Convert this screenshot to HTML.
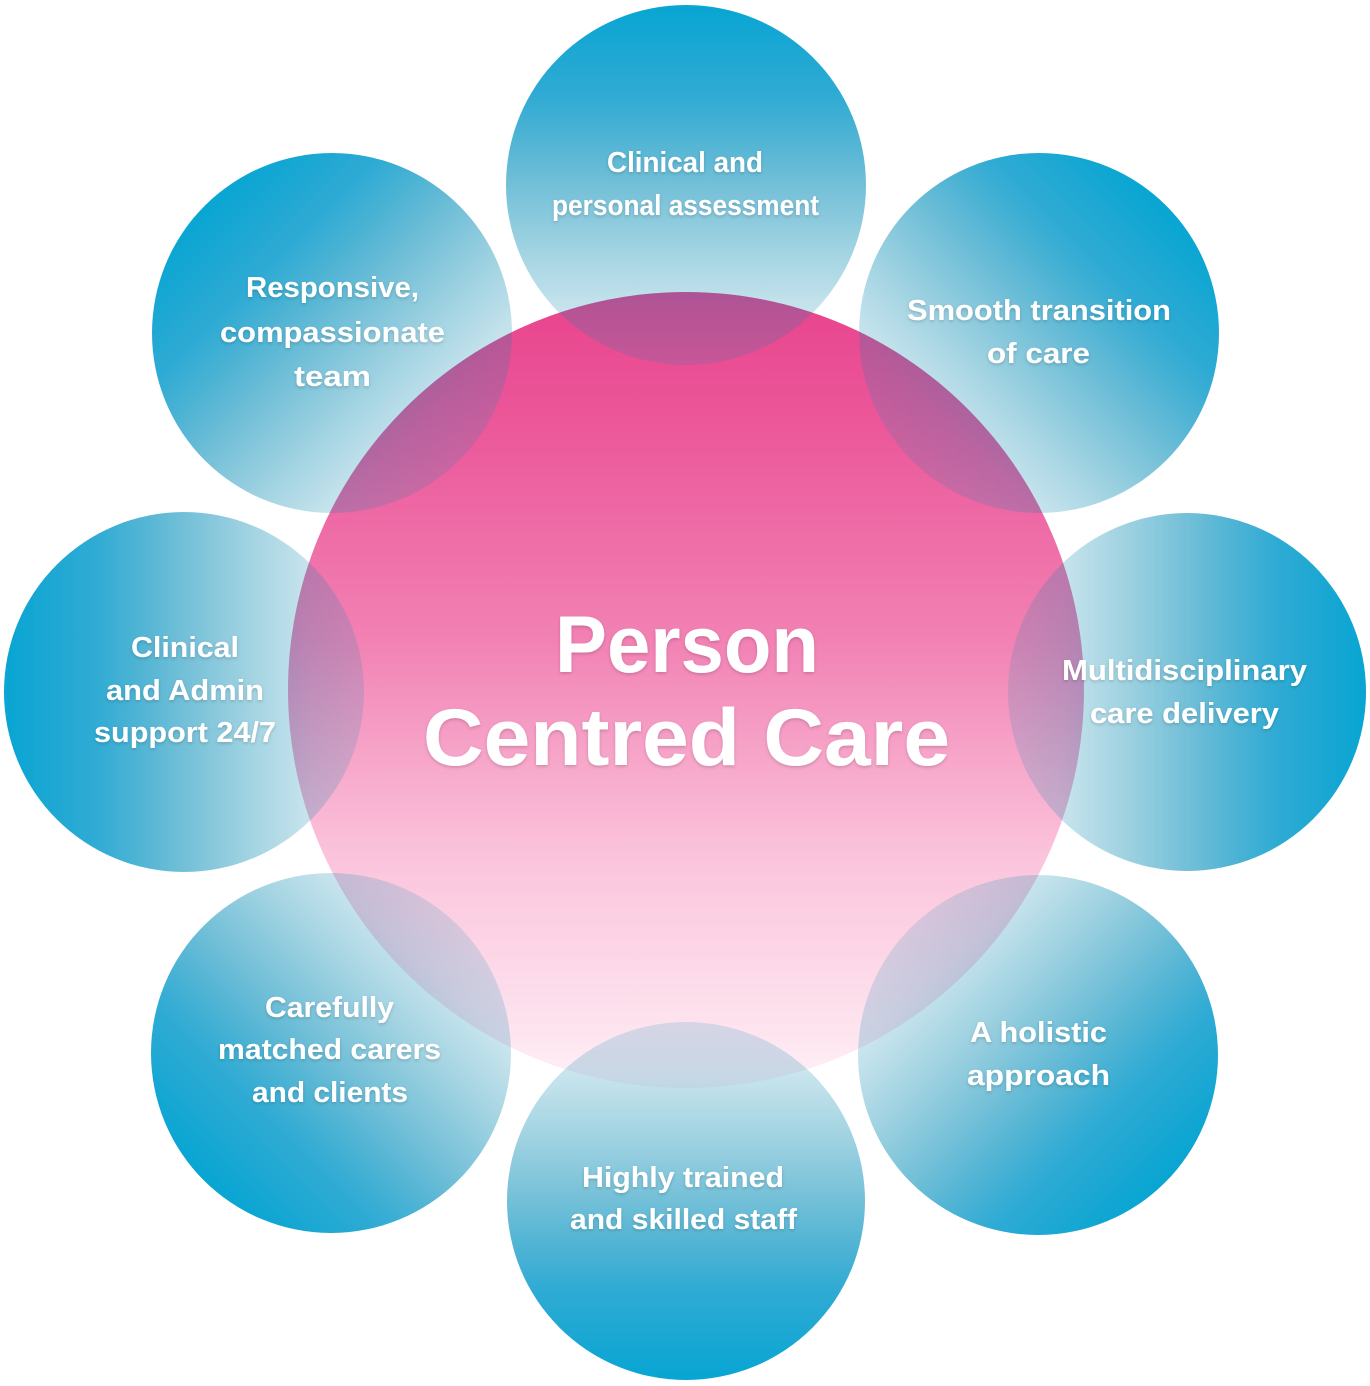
<!DOCTYPE html>
<html>
<head>
<meta charset="utf-8">
<style>
  html, body { margin: 0; padding: 0; background: #ffffff; }
  svg { display: block; }
  .t { font-family: "Liberation Sans", "DejaVu Sans", sans-serif; font-weight: 700; fill: #ffffff; text-anchor: middle; }
  .o { font-size: 29px; }
  .c { font-size: 81px; }
</style>
</head>
<body>
<svg width="1370" height="1386" viewBox="0 0 1370 1386" xmlns="http://www.w3.org/2000/svg">
  <defs>
    <linearGradient id="pk" x1="0" y1="0" x2="0" y2="1">
      <stop offset="0" stop-color="#e8438c"/>
      <stop offset="0.2" stop-color="#ec5c9d"/>
      <stop offset="0.44" stop-color="#f282b4"/>
      <stop offset="0.71" stop-color="#fbc4dc"/>
      <stop offset="0.94" stop-color="#fde6f0"/>
      <stop offset="1" stop-color="#fff2f7"/>
    </linearGradient>
    <linearGradient id="b" x1="0.5" y1="0" x2="0.5" y2="1">
      <stop offset="0" stop-color="#08a5d3" stop-opacity="1"/>
      <stop offset="0.25" stop-color="#0a9ccc" stop-opacity="0.85"/>
      <stop offset="0.5" stop-color="#008cb8" stop-opacity="0.55"/>
      <stop offset="0.7" stop-color="#0087af" stop-opacity="0.35"/>
      <stop offset="0.85" stop-color="#0484ad" stop-opacity="0.22"/>
      <stop offset="1" stop-color="#0087af" stop-opacity="0.15"/>
    </linearGradient>
    <linearGradient id="gT" href="#b" x1="0.5" y1="0" x2="0.5" y2="1"/>
    <linearGradient id="gTR" href="#b" x1="0.854" y1="0.146" x2="0.146" y2="0.854"/>
    <linearGradient id="gR" href="#b" x1="1" y1="0.5" x2="0" y2="0.5"/>
    <linearGradient id="gBR" href="#b" x1="0.854" y1="0.854" x2="0.146" y2="0.146"/>
    <linearGradient id="gB" href="#b" x1="0.5" y1="1" x2="0.5" y2="0"/>
    <linearGradient id="gBL" href="#b" x1="0.146" y1="0.854" x2="0.854" y2="0.146"/>
    <linearGradient id="gL" href="#b" x1="0" y1="0.5" x2="1" y2="0.5"/>
    <linearGradient id="gTL" href="#b" x1="0.146" y1="0.146" x2="0.854" y2="0.854"/>
    <filter id="ts" x="-10%" y="-30%" width="120%" height="160%">
      <feDropShadow dx="0" dy="1.5" stdDeviation="1.5" flood-color="#000000" flood-opacity="0.18"/>
    </filter>
  </defs>

  <!-- central pink circle -->
  <circle cx="686" cy="690" r="398" fill="url(#pk)"/>

  <!-- outer blue circles -->
  <circle cx="686" cy="185" r="180" fill="url(#gT)"/>
  <circle cx="1039" cy="333" r="180" fill="url(#gTR)"/>
  <circle cx="1187" cy="692" r="179" fill="url(#gR)"/>
  <circle cx="1038" cy="1055" r="180" fill="url(#gBR)"/>
  <circle cx="686" cy="1201" r="179" fill="url(#gB)"/>
  <circle cx="331" cy="1053" r="180" fill="url(#gBL)"/>
  <circle cx="184" cy="692" r="180" fill="url(#gL)"/>
  <circle cx="332" cy="333" r="180" fill="url(#gTL)"/>

  <g filter="url(#ts)">
    <!-- top -->
    <text class="t o" x="685" y="172" textLength="156" lengthAdjust="spacingAndGlyphs">Clinical and</text>
    <text class="t o" x="685.5" y="215" textLength="267" lengthAdjust="spacingAndGlyphs">personal assessment</text>
    <!-- top-right -->
    <text class="t o" x="1039" y="320" textLength="264" lengthAdjust="spacingAndGlyphs">Smooth transition</text>
    <text class="t o" x="1038.5" y="363" textLength="103" lengthAdjust="spacingAndGlyphs">of care</text>
    <!-- right -->
    <text class="t o" x="1184.5" y="680" textLength="245" lengthAdjust="spacingAndGlyphs">Multidisciplinary</text>
    <text class="t o" x="1184.5" y="723" textLength="189" lengthAdjust="spacingAndGlyphs">care delivery</text>
    <!-- bottom-right -->
    <text class="t o" x="1038.5" y="1042" textLength="137" lengthAdjust="spacingAndGlyphs">A holistic</text>
    <text class="t o" x="1038.5" y="1085" textLength="143" lengthAdjust="spacingAndGlyphs">approach</text>
    <!-- bottom -->
    <text class="t o" x="683" y="1187" textLength="202" lengthAdjust="spacingAndGlyphs">Highly trained</text>
    <text class="t o" x="683.5" y="1229" textLength="227" lengthAdjust="spacingAndGlyphs">and skilled staff</text>
    <!-- bottom-left -->
    <text class="t o" x="329.5" y="1017" textLength="129" lengthAdjust="spacingAndGlyphs">Carefully</text>
    <text class="t o" x="329.5" y="1059" textLength="223" lengthAdjust="spacingAndGlyphs">matched carers</text>
    <text class="t o" x="330" y="1102" textLength="156" lengthAdjust="spacingAndGlyphs">and clients</text>
    <!-- left -->
    <text class="t o" x="185" y="657" textLength="108" lengthAdjust="spacingAndGlyphs">Clinical</text>
    <text class="t o" x="185" y="700" textLength="158" lengthAdjust="spacingAndGlyphs">and Admin</text>
    <text class="t o" x="185" y="742" textLength="182" lengthAdjust="spacingAndGlyphs">support 24/7</text>
    <!-- top-left -->
    <text class="t o" x="332.5" y="297" textLength="173" lengthAdjust="spacingAndGlyphs">Responsive,</text>
    <text class="t o" x="332.5" y="342" textLength="225" lengthAdjust="spacingAndGlyphs">compassionate</text>
    <text class="t o" x="332.5" y="386" textLength="77" lengthAdjust="spacingAndGlyphs">team</text>

    <!-- centre -->
    <text class="t c" x="687" y="672" textLength="264" lengthAdjust="spacingAndGlyphs">Person</text>
    <text class="t c" x="686.5" y="765" textLength="527" lengthAdjust="spacingAndGlyphs">Centred Care</text>
  </g>
</svg>
</body>
</html>
